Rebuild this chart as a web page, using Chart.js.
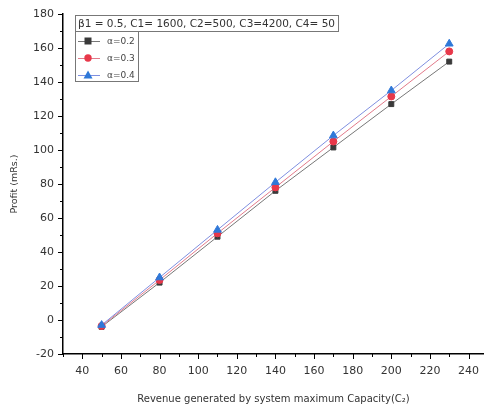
<!DOCTYPE html>
<html lang="en">
<head>
  <meta charset="UTF-8" />
  <title>Profit vs Revenue</title>
  <script src="https://cdn.jsdelivr.net/npm/chart.js"></script>
  <style>
    html, body { margin: 0; padding: 0; background: #fff; }
    #wrap { width: 484px; height: 405px; position: relative; }
  </style>
</head>
<body>
  <div id="wrap"><canvas id="chart" width="484" height="405"></canvas></div>
  <script>
    // revenue generated by system max capacity (x)
    const revenue = [50, 80, 110, 140, 170, 200, 230];
    // profit (mRs.) per alpha value
    const profitA02 = [-4, 22, 49, 76, 101.5, 127, 152];
    const profitA03 = [-3.5, 23.5, 51, 78, 105, 131.5, 158];
    const profitA04 = [-3, 25, 53, 81, 108.5, 135, 162.5];
    const seriesLabels = ["α=0.2", "α=0.3", "α=0.4"];
    const legendTitle = "β1 = 0.5, C1= 1600, C2=500, C3=4200, C4= 50";
    const xTicks = [40, 60, 80, 100, 120, 140, 160, 180, 200, 220, 240];
    const yTicks = [-20, 0, 20, 40, 60, 80, 100, 120, 140, 160, 180];

    const FONT = "'DejaVu Sans', sans-serif";
    const colors = ["#3a3a3a", "#e8384a", "#2f78d8"];
    const lineColors = ["#777777", "#e27a8a", "#7f8fe0"];
    const shapes = ["rect", "circle", "triangle"];

    const toPts = arr => arr.map((v, i) => ({ x: revenue[i], y: v }));
    const datasets = [profitA02, profitA03, profitA04].map((arr, i) => ({
      label: seriesLabels[i],
      data: toPts(arr),
      borderColor: lineColors[i],
      backgroundColor: colors[i],
      pointBorderColor: colors[i],
      pointStyle: shapes[i],
      pointRadius: i === 2 ? 4.5 : 3.5,
      borderWidth: 1,
      tension: 0,
      order: 3 - i
    }));

    // minor ticks + custom legend box, drawn the Origin way
    const extras = {
      id: "extras",
      afterDraw(chart) {
        const ctx = chart.ctx;
        const xs = chart.scales.x, ys = chart.scales.y;
        const a = chart.chartArea;
        ctx.save();
        ctx.strokeStyle = "#000";
        ctx.lineWidth = 1;
        ctx.beginPath();
        for (let v = 30; v <= 248; v += 10) {
          const px = Math.round(xs.getPixelForValue(v)) + 0.5;
          const len = v % 20 === 0 ? 5 : 3;
          ctx.moveTo(px, a.bottom); ctx.lineTo(px, a.bottom + len);
        }
        for (let v = -20; v <= 180; v += 10) {
          const py = Math.round(ys.getPixelForValue(v)) + 0.5;
          const len = v % 20 === 0 ? 5 : 3;
          ctx.moveTo(a.left, py); ctx.lineTo(a.left - len, py);
        }
        ctx.stroke();

        // legend
        const lx = 75, ly = 15;
        ctx.font = "10.5px " + FONT;
        ctx.textBaseline = "middle";
        ctx.fillStyle = "#333";
        const tw = ctx.measureText(legendTitle).width;
        ctx.strokeStyle = "#777";
        ctx.strokeRect(lx + 0.5, ly + 0.5, tw + 6, 16);
        ctx.fillText(legendTitle, lx + 3, ly + 9);
        ctx.strokeRect(lx + 0.5, ly + 16.5, 63, 50);
        seriesLabels.forEach((lab, i) => {
          const cy = ly + 26 + i * 17;
          ctx.strokeStyle = lineColors[i];
          ctx.beginPath();
          ctx.moveTo(lx + 3, cy + 0.5); ctx.lineTo(lx + 25, cy + 0.5);
          ctx.stroke();
          ctx.fillStyle = colors[i];
          const mx = lx + 13;
          ctx.beginPath();
          if (i === 0) ctx.rect(mx - 3.5, cy - 3.5, 7, 7);
          else if (i === 1) ctx.arc(mx, cy, 3.7, 0, Math.PI * 2);
          else { ctx.moveTo(mx, cy - 4.5); ctx.lineTo(mx + 4.5, cy + 3.5); ctx.lineTo(mx - 4.5, cy + 3.5); ctx.closePath(); }
          ctx.fill();
          ctx.fillStyle = "#444";
          ctx.font = "9px " + FONT;
          ctx.fillText(lab, lx + 32, cy + 1);
        });
        ctx.restore();
      }
    };

    new Chart(document.getElementById("chart"), {
      type: "line",
      data: { datasets },
      options: {
        responsive: false,
        animation: false,
        layout: { autoPadding: false, padding: { top: 14, right: 0, left: 0, bottom: 0 } },
        plugins: { legend: { display: false }, tooltip: { enabled: false } },
        scales: {
          x: {
            type: "linear",
            min: 30,
            max: 248,
            afterBuildTicks: s => { s.ticks = xTicks.map(v => ({ value: v })); },
            afterFit: s => { s.height = 51; s.paddingLeft = 0; s.paddingRight = 0; },
            grid: { display: true, drawOnChartArea: false, drawTicks: false },
            border: { color: "#000", width: 1.5 },
            ticks: { color: "#333", padding: 11, maxRotation: 0, font: { family: FONT, size: 11 } },
            title: {
              display: true,
              text: "Revenue generated by system maximum Capacity(C₂)",
              color: "#333",
              padding: { top: 3, bottom: 0 },
              font: { family: FONT, size: 10 }
            }
          },
          y: {
            min: -20,
            max: 180,
            afterBuildTicks: s => { s.ticks = yTicks.map(v => ({ value: v })); },
            afterFit: s => { s.width = 63; s.paddingTop = 0; s.paddingBottom = 0; },
            grid: { display: true, drawOnChartArea: false, drawTicks: false },
            border: { color: "#000", width: 1.5 },
            ticks: { color: "#333", padding: 9, font: { family: FONT, size: 11 } },
            title: {
              display: true,
              text: "Profit (mRs.)",
              color: "#333",
              padding: { top: 9, bottom: 0 },
              font: { family: FONT, size: 9.5 }
            }
          }
        }
      },
      plugins: [extras]
    });
  </script>
</body>
</html>
